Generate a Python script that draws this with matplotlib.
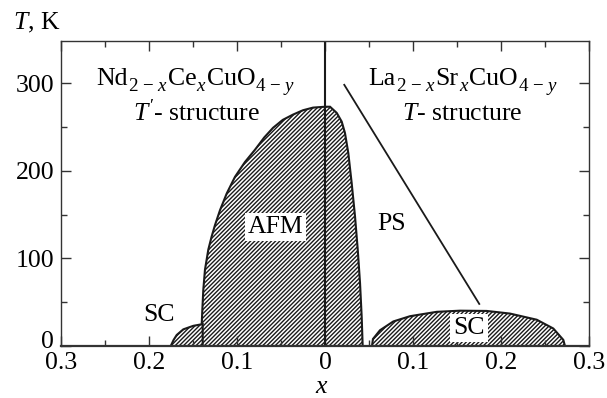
import numpy as np
import matplotlib
matplotlib.use("Agg")
from matplotlib import pyplot as plt
from matplotlib.ticker import FixedLocator, MultipleLocator, FuncFormatter
from matplotlib.transforms import ScaledTranslation

plt.rcParams['font.family'] = 'Liberation Serif'
plt.rcParams['mathtext.fontset'] = 'custom'
plt.rcParams['mathtext.rm'] = 'Liberation Serif'
plt.rcParams['mathtext.it'] = 'Liberation Serif:italic'
plt.rcParams['hatch.linewidth'] = 1.0

# AFM region boundary (x, T): left edge up to the top, then right edge down
afm_x = [-0.140, -0.141, -0.1394, -0.1383, -0.1364, -0.1326, -0.1288, -0.125, -0.1193,
         -0.1117, -0.1023, -0.0909, -0.0795, -0.069, -0.059, -0.048, -0.0364, -0.025,
         -0.0136, 0.0, 0.0057, 0.0133, 0.019, 0.0227, 0.0265, 0.0303, 0.0341, 0.0372,
         0.0398, 0.0417, 0.0428]
afm_T = [0, 3.4, 41, 64, 87, 110, 125, 138, 155,
         174, 193, 210, 224, 238, 249, 258, 264, 269,
         272, 273, 273, 266, 256, 243, 220, 186, 148, 110,
         72, 33, 0]

# superconducting dome, electron-doped side
sc_n_x = [-0.1753, -0.172, -0.1685, -0.161, -0.1497, -0.139, -0.139]
sc_n_T = [0, 7, 12.6, 19, 23, 25, 0]

# superconducting dome, hole-doped side
sc_p_x = [0.0534, 0.0545, 0.0625, 0.0776, 0.0966, 0.127, 0.1534, 0.1838, 0.2102,
          0.2406, 0.2594, 0.2708, 0.2727]
sc_p_T = [0, 8, 18, 28, 34, 39, 40.3, 40, 37, 30, 20, 7, 0]

# phase separation boundary
ps_x = [0.0219, 0.1753]
ps_T = [298, 48]

x_ticks = [-0.3, -0.2, -0.1, 0.0, 0.1, 0.2, 0.3]
T_ticks = [0, 100, 200, 300]

fig = plt.figure(figsize=(6.07, 3.98), dpi=100)
ax = fig.add_axes([61 / 607, 1 - 346 / 398, 528 / 607, 305 / 398])

ink = '#1a1a1a'
for xs, ts in [(afm_x, afm_T), (sc_n_x, sc_n_T), (sc_p_x, sc_p_T)]:
    ax.fill(xs, ts, facecolor='white', edgecolor=ink, hatch='////////', lw=1.5)

ax.axvline(0, color=ink, lw=1.5)
ax.plot(ps_x, ps_T, color=ink, lw=1.3)

fs = 18.5
renderer = fig.canvas.get_renderer()


def formula(x, y, pieces):
    """Chemical formula built from (text, is_subscript) pieces, centred on x."""
    texts, widths = [], []
    for s, sub in pieces:
        t = ax.text(x, y, s, fontsize=fs * (0.74 if sub else 1.0),
                    ha='left', va='baseline')
        texts.append((t, sub))
        widths.append(t.get_window_extent(renderer).width * 72 / fig.dpi)
    left = -sum(widths) / 2
    for (t, sub), w in zip(texts, widths):
        dy = -0.24 * fs if sub else 0.0
        t.set_transform(ax.transData + ScaledTranslation(left / 72, dy / 72, fig.dpi_scale_trans))
        left += w


formula(-0.1466, 298, [('Nd', False), (r'2 $-$ $x$', True), ('Ce', False),
                       (r'$x$', True), ('CuO', False), (r'4 $-$ $y$', True)])
formula(0.1568, 298, [('La', False), (r'2 $-$ $x$', True), ('Sr', False),
                      (r'$x$', True), ('CuO', False), (r'4 $-$ $y$', True)])
ax.text(-0.1458, 257, r"$T'$- structure", ha='center', va='baseline', fontsize=fs)
ax.text(0.1557, 258, r"$T$- structure", ha='center', va='baseline', fontsize=fs)

box = dict(facecolor='white', edgecolor='none', pad=2)
ax.text(-0.0559, 136, 'AFM', ha='center', va='center', fontsize=fs, bbox=box)
ax.text(0.0758, 139, 'PS', ha='center', va='center', fontsize=fs)
ax.text(-0.1886, 35, 'SC', ha='center', va='center', fontsize=fs)
ax.text(0.1636, 20.6, 'SC', ha='center', va='center', fontsize=fs, bbox=box)

ax.set_xlim(-0.3, 0.3)
ax.set_ylim(0, 348)
ax.xaxis.set_major_locator(FixedLocator(x_ticks))
ax.xaxis.set_minor_locator(MultipleLocator(0.05))
ax.yaxis.set_major_locator(FixedLocator(T_ticks))
ax.yaxis.set_minor_locator(MultipleLocator(50))
ax.xaxis.set_major_formatter(FuncFormatter(lambda v, p: '0' if abs(v) < 1e-9 else f'{abs(v):.1f}'))
ax.yaxis.set_major_formatter(FuncFormatter(lambda v, p: f'{v:.0f}'))
ax.tick_params(which='both', direction='in', top=True, right=True, labelsize=fs, color='#333333')
ax.tick_params(which='major', length=7, width=1)
ax.tick_params(which='minor', length=4, width=1)
ax.tick_params(axis='x', pad=4)
ax.tick_params(axis='y', pad=5)
for s in ax.spines.values():
    s.set_linewidth(1.0)
    s.set_color('#333333')
ax.spines['bottom'].set_linewidth(1.6)

# lift the "0" on the T axis clear of the x labels
zero = ax.yaxis.get_major_ticks()[0].label1
zero.set_transform(zero.get_transform() + ScaledTranslation(0, 6 / 100, fig.dpi_scale_trans))

fig.text(12.7 / 607, 1 - 29 / 398, r'$T$, K', ha='left', va='baseline', fontsize=fs)
fig.text(322 / 607, 1 - 393 / 398, r'$x$', ha='center', va='baseline', fontsize=fs)

fig.savefig('out.png', dpi=100)
